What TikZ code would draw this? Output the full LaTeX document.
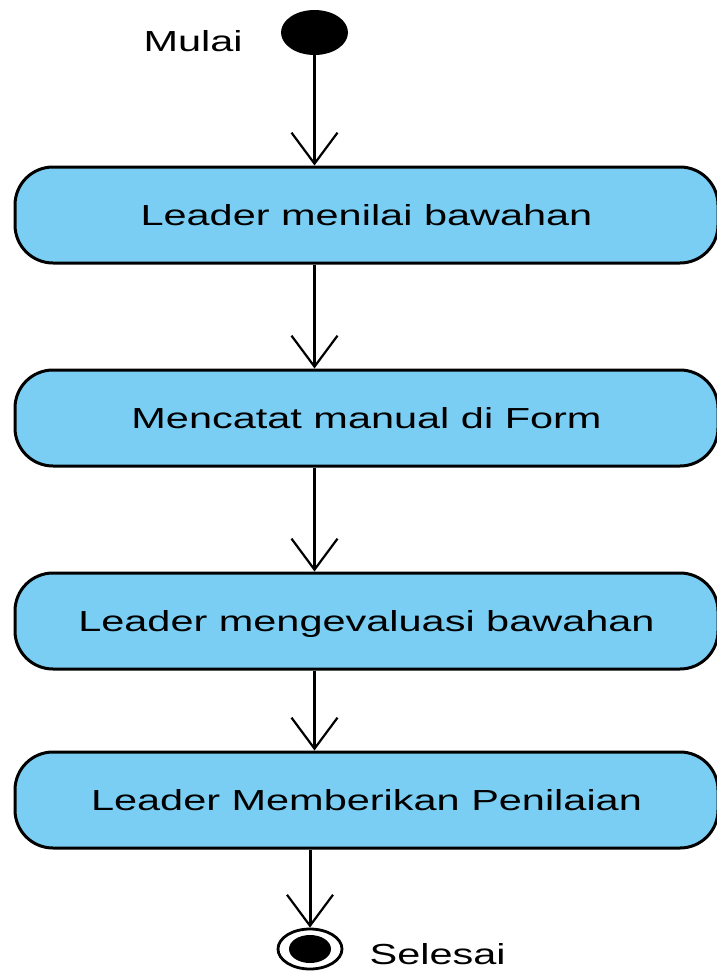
\documentclass[tikz,border=0pt]{standalone}
\usepackage{fontspec}
\setmainfont{Liberation Sans}[FakeStretch=1.43]
\usetikzlibrary{arrows.meta,positioning,shapes.geometric}
\definecolor{actblue}{RGB}{122,206,243}
\tikzset{
  flowarr/.style={-{Straight Barb[length=31pt, width=46pt, line width=2.2pt]}, line width=3pt, draw=black},
  flownode/.style={draw, line width=3pt, align=center, inner sep=0pt},
  flowlabel/.style={inner sep=0pt},
}

\begin{document}
\begin{tikzpicture}[
  x=1pt, y=-1pt,
  font=\fontsize{29pt}{34pt}\selectfont,
  act/.style={flownode, fill=actblue, rounded corners=38pt, minimum width=703pt, minimum height=96pt, text height=21pt, text depth=0pt},
  dot/.style={ellipse, fill=black, inner sep=0pt},
]
  \useasboundingbox (0,0) rectangle (716,972);
  \node[dot, minimum width=67pt, minimum height=45pt] (start) at (314.5,32.5) {};
  \node[flowlabel, left=38pt of start, yshift=-8.5pt] (mulai) {Mulai};
  \node[act] (nilai) at (366.5,215) {Leader menilai bawahan};
  \node[act] (catat) at (366.5,418) {Mencatat manual di Form};
  \node[act] (evaluasi) at (366.5,621) {Leader mengevaluasi bawahan};
  \node[act] (beri) at (366.5,800) {Leader Memberikan Penilaian};
  \node[ellipse, draw, line width=2.8pt, minimum width=64pt, minimum height=40pt, inner sep=0pt] (stop) at (310,949) {};
  \node[dot, minimum width=42pt, minimum height=28pt] (stopcore) at (stop) {};
  \node[flowlabel, right=26pt of stop, yshift=-5.5pt] (selesai) {Selesai};
  \draw[flowarr] (start.south) -- (start.south |- nilai.north);
  \draw[flowarr] (nilai.south -| start) -- (catat.north -| start);
  \draw[flowarr] (catat.south -| start) -- (evaluasi.north -| start);
  \draw[flowarr] (evaluasi.south -| start) -- (beri.north -| start);
  \draw[flowarr] (beri.south -| stop) -- (stop.north);
\end{tikzpicture}
\end{document}
